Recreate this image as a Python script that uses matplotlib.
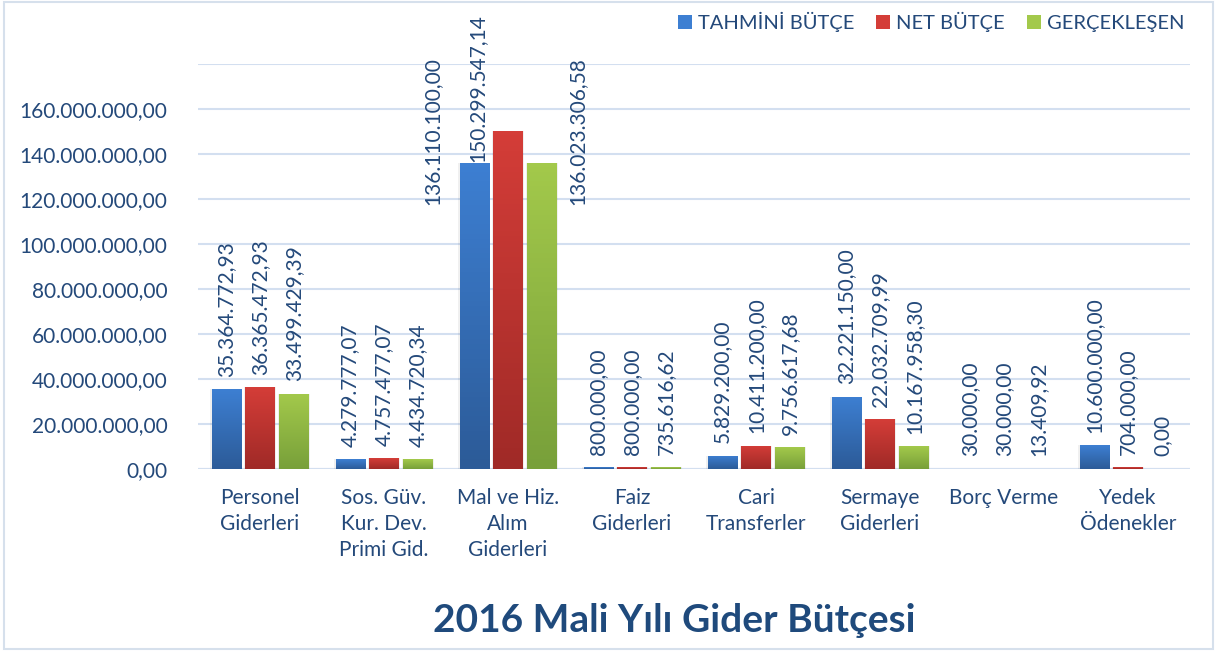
import matplotlib
matplotlib.use('Agg')
import matplotlib.pyplot as plt
from matplotlib.patches import Rectangle
from matplotlib.colors import LinearSegmentedColormap
from matplotlib.ticker import FixedLocator, FuncFormatter
import numpy as np

plt.rcParams['font.family'] = ['Lato', 'DejaVu Sans']

categories = ['Personel\nGiderleri', 'Sos. Güv.\nKur. Dev.\nPrimi Gid.',
              'Mal ve Hiz.\nAlım\nGiderleri', 'Faiz\nGiderleri',
              'Cari\nTransferler', 'Sermaye\nGiderleri', 'Borç Verme',
              'Yedek\nÖdenekler']
series_names = ['TAHMİNİ BÜTÇE', 'NET BÜTÇE', 'GERÇEKLEŞEN']
tahmini = [35364772.93, 4279777.07, 136110100.00, 800000.00,
           5829200.00, 32221150.00, 30000.00, 10600000.00]
net = [36365472.93, 4757477.07, 150299547.14, 800000.00,
       10411200.00, 22032709.99, 30000.00, 704000.00]
gerceklesen = [33499429.39, 4434720.34, 136023306.58, 735616.62,
               9756617.68, 10167958.30, 13409.92, 0.00]
yticks = [0, 20e6, 40e6, 60e6, 80e6, 100e6, 120e6, 140e6, 160e6]

TEXT = '#24497a'
grads = [('#3d7fd2', '#2c5b98'), ('#d43d38', '#a02a27'), ('#a3c94b', '#78a03a')]


def tr_fmt(v, decimals=2):
    s = f'{v:,.{decimals}f}'
    return s.replace(',', 'X').replace('.', ',').replace('X', '.')


fig = plt.figure(figsize=(12.17, 6.51), dpi=100)
ax = fig.add_axes([198 / 1217, 1 - 469 / 651, 992 / 1217, 405 / 651])

n = len(categories)
x = np.arange(n)
width = 0.234
step = 0.274
all_series = [tahmini, net, gerceklesen]

# label position overrides for the crowded group (dx in category units, y in data)
label_override = {(2, 0): (-0.34, 117.3e6), (2, 1): (-0.245, 136.5e6),
                  (2, 2): (0.285, 117.3e6)}

for i, vals in enumerate(all_series):
    cmap = LinearSegmentedColormap.from_list('g%d' % i, [grads[i][1], grads[i][0]])
    xs = x + (i - 1) * step
    for j, (xc, v) in enumerate(zip(xs, vals)):
        # soft shadow
        ax.add_patch(Rectangle((xc - width / 2 - 0.01, -1.0e6), width + 0.02, v + 1.0e6,
                               facecolor='#000000', alpha=0.06, lw=0, zorder=2))
        rect = Rectangle((xc - width / 2, 0), width, v, facecolor='none',
                         edgecolor='none', zorder=3)
        ax.add_patch(rect)
        if v > 0:
            im = ax.imshow(np.linspace(0, 1, 64).reshape(-1, 1), cmap=cmap,
                           origin='lower', aspect='auto',
                           extent=(xc - width / 2, xc + width / 2, 0, v), zorder=3)
            im.set_clip_path(rect)
        if (j, i) in label_override:
            dx, ly = label_override[(j, i)]
            ax.text(xc + dx, ly, tr_fmt(v), rotation=90, ha='center', va='bottom',
                    fontsize=15, color=TEXT, clip_on=False, zorder=5)
        else:
            ax.annotate(tr_fmt(v), (xc, v), xytext=(0, 9), textcoords='offset points',
                        rotation=90, ha='center', va='bottom', fontsize=15,
                        color=TEXT, annotation_clip=False, zorder=5)

ax.set_xlim(-0.5, n - 0.5)
ax.set_ylim(0, 180e6)
ax.yaxis.set_major_locator(FixedLocator(yticks + [180e6]))
ax.yaxis.set_major_formatter(FuncFormatter(lambda v, p: tr_fmt(v) if v < 170e6 else ''))
ax.grid(axis='y', color='#d3dff0', lw=1.5, zorder=0)
ax.set_axisbelow(True)
for s in ax.spines.values():
    s.set_visible(False)
ax.tick_params(axis='y', length=0, pad=22, labelsize=15, labelcolor=TEXT)
ax.set_xticks(x)
ax.set_xticklabels(categories, fontsize=15, color=TEXT, linespacing=1.35, va='top')
ax.tick_params(axis='x', length=0, pad=14)
ax.axhline(0, color='#d3dff0', lw=1.5, zorder=1)

handles = [Rectangle((0, 0), 1, 1, facecolor=g[0]) for g in grads]
leg = fig.legend(handles, series_names, loc='upper right', ncol=3,
                 bbox_to_anchor=(1203 / 1217, 1 + 6 / 651), frameon=False,
                 fontsize=14.5, handlelength=0.7, handleheight=0.7,
                 handletextpad=0.3, columnspacing=1.1)
for t in leg.get_texts():
    t.set_color(TEXT)

fig.text(0.554, 1 - 621 / 651, '2016 Mali Yılı Gider Bütçesi', ha='center',
         va='center', fontsize=28, fontweight='bold', color='#1f4a7c')

fig.patches.append(Rectangle((4 / 1217, 2 / 651), 1 - 8 / 1217, 1 - 4 / 651,
                             transform=fig.transFigure, fill=False,
                             edgecolor='#d6e0ec', lw=1.5))

fig.savefig('out.png', dpi=100)
